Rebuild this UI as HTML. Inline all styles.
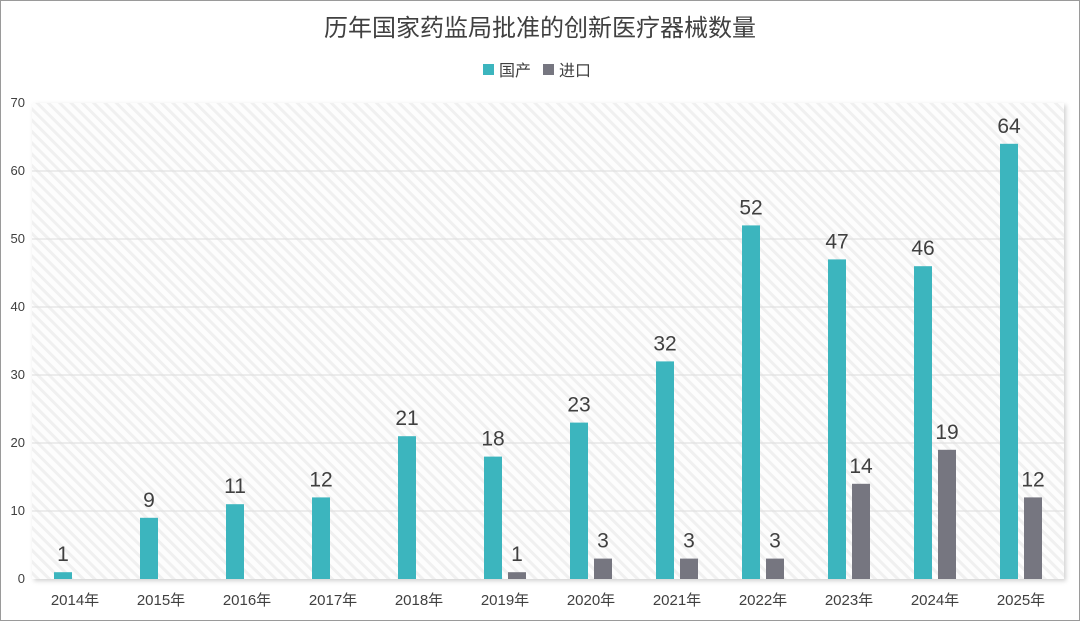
<!DOCTYPE html>
<html><head><meta charset="utf-8"><style>
html,body{margin:0;padding:0;background:#fff;}
svg{display:block;font-family:"Liberation Sans","Noto Sans CJK SC",sans-serif;}
</style></head><body>
<svg id="chart" width="1080" height="621" viewBox="0 0 1080 621" xmlns="http://www.w3.org/2000/svg">
<defs>
<pattern id="hatch" width="8" height="8" patternUnits="userSpaceOnUse" patternTransform="rotate(-45)">
<rect width="8" height="8" fill="#fdfdfd"/><rect width="3" height="8" fill="#f0f0f0"/>
</pattern>
<filter id="sh" x="-5%" y="-5%" width="110%" height="110%"><feDropShadow dx="2" dy="2" stdDeviation="2" flood-color="#000" flood-opacity="0.18"/></filter>
</defs>
<rect x="0.5" y="0.5" width="1079" height="620" fill="#fff" stroke="#9a9a9a"/>
<text x="540" y="36" text-anchor="middle" font-size="24" fill="#404040">历年国家药监局批准的创新医疗器械数量</text>
<g>
<rect x="483" y="64" width="11" height="11" fill="#3cb5be"/>
<text x="499" y="76" font-size="16" fill="#404040">国产</text>
<rect x="543" y="64" width="11" height="11" fill="#767680"/>
<text x="559" y="76" font-size="16" fill="#404040">进口</text>
</g>
<rect x="32" y="103" width="1032" height="476" fill="url(#hatch)" filter="url(#sh)"/>
<g id="grid"></g><g id="bars"></g><g id="labels"></g>
</svg>
<script>
const categories=["2014年","2015年","2016年","2017年","2018年","2019年","2020年","2021年","2022年","2023年","2024年","2025年"];
const domestic=[1,9,11,12,21,18,23,32,52,47,46,64];
const imported=[null,null,null,null,null,1,3,3,3,14,19,12];
const yTicks=[0,10,20,30,40,50,60,70];
const NS="http://www.w3.org/2000/svg";
const X0=32,W=1032,Y0=579,H=476,YMAX=70;
const y=v=>Y0-v/YMAX*H;
const xc=i=>X0+(i+0.5)*W/categories.length;
function mk(tag,attrs,parent,txt){const e=document.createElementNS(NS,tag);for(const k in attrs)e.setAttribute(k,attrs[k]);if(txt!=null)e.textContent=txt;parent.appendChild(e);return e;}
const grid=document.getElementById('grid'),bars=document.getElementById('bars'),labels=document.getElementById('labels');
yTicks.forEach(t=>{
  if(t>0&&t<YMAX){const l=mk('line',{x1:X0,x2:X0+W,y1:y(t),y2:y(t),stroke:'#dcdcdc','stroke-width':1},grid);
  
  }
  const tx=mk('text',{x:25,y:y(t)+4,'text-anchor':'end','font-size':13,fill:'#404040'},grid,String(t));
  
  
});
categories.forEach((c,i)=>{
  const cx=xc(i);
  const tx=mk('text',{x:cx,y:605,'text-anchor':'middle','font-size':15,fill:'#404040'},labels,c);
  
  
  const d=domestic[i];
  if(d!=null){
    const r=mk('rect',{x:cx-21,y:y(d),width:18,height:Y0-y(d),fill:'#3cb5be'},bars);
    
    
    const v=mk('text',{x:cx-12,y:y(d)-11,'text-anchor':'middle','font-size':21,fill:'#404040'},labels,String(d));
    
    
  }
  const m=imported[i];
  if(m!=null){
    const r=mk('rect',{x:cx+3,y:y(m),width:18,height:Y0-y(m),fill:'#767680'},bars);
    
    
    const v=mk('text',{x:cx+12,y:y(m)-11,'text-anchor':'middle','font-size':21,fill:'#404040'},labels,String(m));
    
    
  }
});
</script>
</body></html>
